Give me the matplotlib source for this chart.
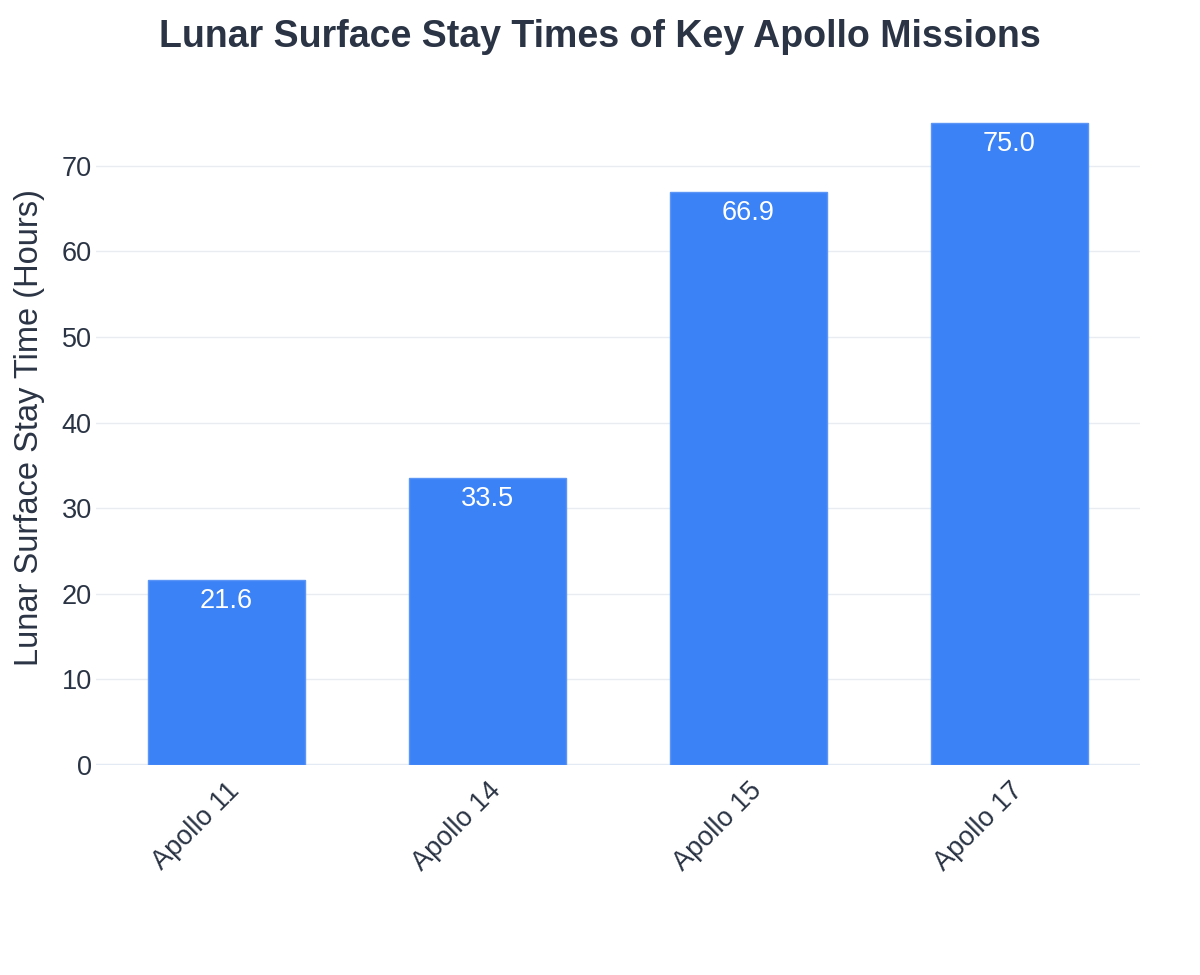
import matplotlib.pyplot as plt

# data
missions = ['Apollo 11', 'Apollo 14', 'Apollo 15', 'Apollo 17']
stay_hours = [21.6, 33.5, 66.9, 75.0]

plt.rcParams['font.family'] = ['Liberation Sans', 'DejaVu Sans']

text_color = '#2a3444'
bar_color = '#3b82f6'

fig = plt.figure(figsize=(12, 9.75), dpi=100)
ax = fig.add_axes([0.08, 0.2154, 0.87, 0.6913])

x = range(len(missions))
bars = ax.bar(x, stay_hours, width=0.6, color=bar_color, edgecolor='#5b96f7', linewidth=1, zorder=3)

for b, v in zip(bars, stay_hours):
    ax.text(b.get_x() + b.get_width() / 2, v - 0.9, '{:.1f}'.format(v),
            ha='center', va='top', color='white', fontsize=19.5, zorder=4)

ax.set_xlim(-0.5, 3.5)
ax.set_ylim(0, 78.75)
ax.set_yticks(range(0, 80, 10))
ax.set_xticks(list(x))
ax.set_xticklabels(missions, rotation=45, ha='right', rotation_mode='anchor')

ax.tick_params(axis='both', length=0, labelsize=19.5, labelcolor=text_color)
ax.tick_params(axis='y', pad=3)
ax.tick_params(axis='x', pad=9)

ax.grid(axis='y', color='#e9ecf0', linewidth=1, zorder=0)
for s in ax.spines.values():
    s.set_visible(False)
ax.axhline(0, color='#e3eaf4', linewidth=2.5, zorder=2)

ax.set_ylabel('Lunar Surface Stay Time (Hours)', fontsize=23.5, color=text_color, labelpad=12)
fig.suptitle('Lunar Surface Stay Times of Key Apollo Missions', fontsize=27, fontweight='bold',
             color=text_color, y=0.981)

fig.savefig('out.png', dpi=100, facecolor='white')
